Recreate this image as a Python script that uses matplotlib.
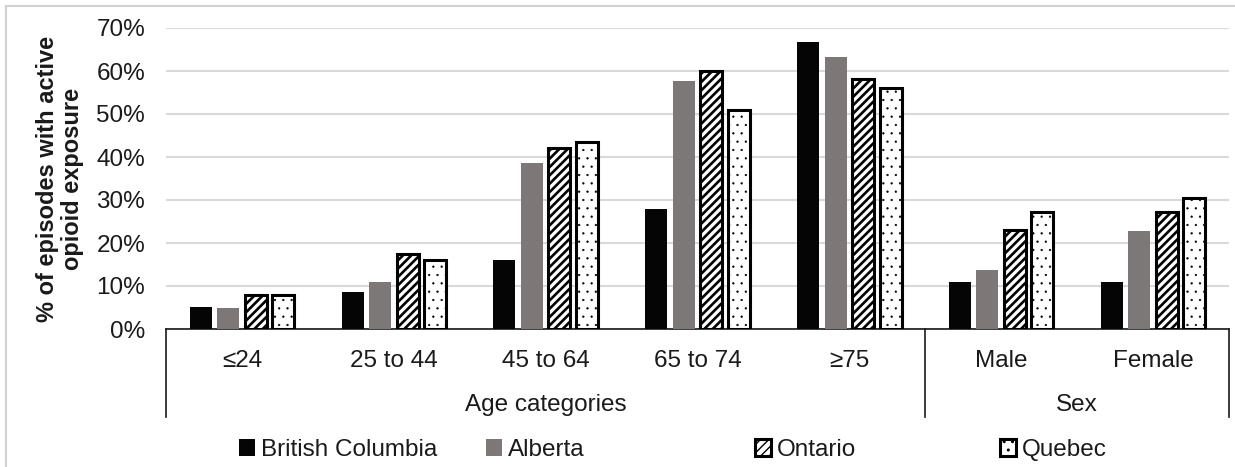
import numpy as np
import matplotlib
matplotlib.use("Agg")
from matplotlib import pyplot as plt
from matplotlib.patches import Rectangle
from matplotlib.lines import Line2D

plt.rcParams['font.family'] = ['Liberation Sans', 'DejaVu Sans']

# data (percent of episodes with active opioid exposure)
categories = ["\u226424", "25 to 44", "45 to 64", "65 to 74", "\u226575", "Male", "Female"]
groups = [("Age categories", 0, 4), ("Sex", 5, 6)]
provinces = ["British Columbia", "Alberta", "Ontario", "Quebec"]
british_columbia = [5.2, 8.7, 16.0, 27.9, 66.7, 11.0, 11.0]
alberta = [4.8, 10.9, 38.6, 57.6, 63.2, 13.7, 22.8]
ontario = [7.8, 17.4, 42.1, 59.9, 58.2, 23.0, 27.1]
quebec = [8.0, 16.0, 43.6, 51.0, 56.1, 27.2, 30.4]
series = [british_columbia, alberta, ontario, quebec]
y_ticks = [0, 10, 20, 30, 40, 50, 60, 70]

styles = [
    dict(color="#050505", edgecolor="none", hatch=None, lw=0, hlw=1.0),
    dict(color="#7d7777", edgecolor="none", hatch=None, lw=0, hlw=1.0),
    dict(color="white", edgecolor="black", hatch="////", lw=2.2, hlw=1.9),
    dict(color="white", edgecolor="black", hatch="..", lw=2.2, hlw=0.4),
]
FS = 17.5
TXT = "#1a1a1a"

fig = plt.figure(figsize=(12.35, 4.67), dpi=100)
ax = fig.add_axes([166 / 1235, 1 - 329 / 467, (1229 - 166) / 1235, (329 - 28) / 467])

x = np.arange(len(categories))
width = 0.145
step = 0.181
for i, vals in enumerate(series):
    st = styles[i]
    with plt.rc_context({'hatch.linewidth': st["hlw"]}):
        bars = ax.bar(x + (i - 1.5) * step, vals, width, color=st["color"], edgecolor=st["edgecolor"],
                      hatch=st["hatch"], linewidth=st["lw"], zorder=3)
    for b in bars:
        if hasattr(b, "set_hatch_linewidth"):
            b.set_hatch_linewidth(st["hlw"])

ax.set_xlim(-0.5, len(categories) - 0.5)
ax.set_ylim(0, 70)
ax.set_yticks(y_ticks)
ax.set_yticklabels([f"{t}%" for t in y_ticks], fontsize=FS, color=TXT)
ax.tick_params(axis="y", length=0, pad=15)
ax.yaxis.grid(True, color="#d9d9d9", linewidth=1.5, zorder=0)
for s in ["top", "right", "left"]:
    ax.spines[s].set_visible(False)
ax.spines["bottom"].set_linewidth(1.2)
ax.spines["bottom"].set_color(TXT)

ax.set_xticks(x)
ax.set_xticklabels(categories, fontsize=FS, color=TXT)
ax.tick_params(axis="x", length=0, pad=15)

# multi-level x axis
tr = ax.get_xaxis_transform()
for xv in [-0.5, 4.5, 6.5]:
    ax.add_line(Line2D([xv, xv], [0, -0.292], transform=tr, color=TXT, lw=1.2, clip_on=False))
for name, a, b in groups:
    ax.text((a + b) / 2, -0.252, name, transform=tr, ha="center", va="center",
            fontsize=FS, color=TXT)

ax.set_ylabel("% of episodes with active\nopioid exposure", fontsize=17, fontweight="bold",
              color=TXT, linespacing=1.1, labelpad=9)

# legend, one entry per block
leg_x = [239, 486, 755, 1000]
for i, name in enumerate(provinces):
    st = styles[i]
    with plt.rc_context({'hatch.linewidth': st["hlw"]}):
        h = Rectangle((0, 0), 1, 1, facecolor=st["color"], edgecolor=st["edgecolor"],
                      hatch=st["hatch"], linewidth=st["lw"])
    lg = fig.legend([h], [name], loc="center left", bbox_to_anchor=(leg_x[i] / 1235, 1 - 450 / 467),
                    frameon=False, fontsize=FS, handlelength=0.65, handleheight=0.65,
                    handletextpad=0.25, borderpad=0, borderaxespad=0)
    for t in lg.get_texts():
        t.set_color(TXT)

# light frame around the chart
fig.add_artist(Line2D([6 / 1235, 6 / 1235], [0, 1 - 6 / 467], transform=fig.transFigure,
                      color="#d0d0d0", lw=1.5))
fig.add_artist(Line2D([6 / 1235, 1], [1 - 6 / 467, 1 - 6 / 467], transform=fig.transFigure,
                      color="#d0d0d0", lw=1.5))

fig.savefig("out.png", dpi=100)
